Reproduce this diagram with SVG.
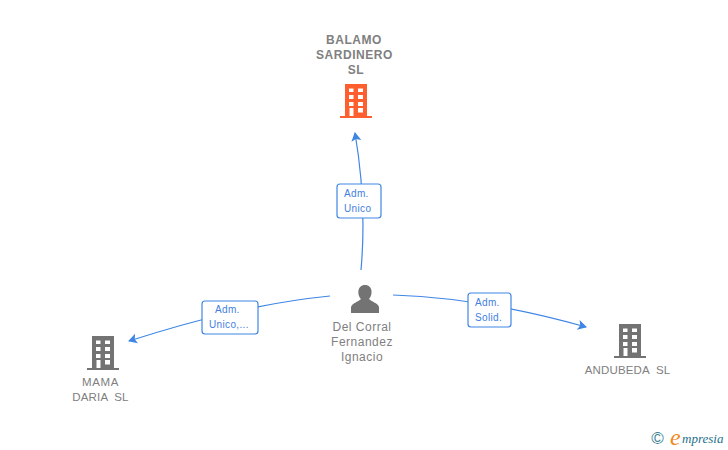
<svg xmlns="http://www.w3.org/2000/svg" width="728" height="450" viewBox="0 0 728 450">
<defs>
<style>
.n{font-family:"Liberation Sans",Arial,sans-serif;font-size:12px;fill:#808080;text-anchor:middle;letter-spacing:.5px;white-space:pre}
.m{font-size:11.500px;letter-spacing:.6px}
.t{font-size:11.500px;letter-spacing:.15px}
.b{font-weight:bold;letter-spacing:.55px}
.e{font-family:"Liberation Sans",Arial,sans-serif;font-size:10px;fill:#3f80df;letter-spacing:.35px}
.c{fill:none;stroke:#3f86e4;stroke-width:1.2}
.l{fill:#fff;stroke:#3f86e4;stroke-width:1.2}
</style>
<marker id="a" markerWidth="11" markerHeight="11" refX="8" refY="5" orient="auto" markerUnits="userSpaceOnUse"><path d="M0 0L9 5L0 10L2 5Z" fill="#3f86e4"/></marker>
<g id="bld">
<path fill-rule="evenodd" d="M5 0H27V32H32V34H0V32H5ZM9 4.500V8H13.500V4.500ZM18 4.500V8H23V4.500ZM9 11V15H13.500V11ZM18 11V15H23V11ZM9 18V22H13.500V18ZM18 18V22H23V18ZM9.500 24V32H13.500V24ZM18 24V28.500H23V24Z"/>
</g>
</defs>
<rect width="728" height="450" fill="#fff"/>
<g id="connectors">
<path class="c" marker-end="url(#a)" d="M361 270C365 225 363 180 355 133"/>
<path class="c" marker-end="url(#a)" d="M330 296C260 303 195 320 129 341"/>
<path class="c" marker-end="url(#a)" d="M393 295C460 297 525 310 586 327"/>
</g>
<g id="edge-top"><rect class="l" x="337" y="184" width="44" height="34" rx="3"/><text class="e" x="344" y="197">Adm.</text><text class="e" x="344" y="212">Unico</text></g>
<g id="edge-left"><rect class="l" x="202" y="301" width="56" height="33" rx="3"/><text class="e" x="215" y="313">Adm.</text><text class="e" x="209" y="328">Unico,...</text></g>
<g id="edge-right"><rect class="l" x="468" y="293" width="43" height="34" rx="3"/><text class="e" x="475" y="306">Adm.</text><text class="e" x="475" y="321">Solid.</text></g>
<g id="node-balamo"><text class="n b" x="354" y="44">BALAMO</text><text class="n b" x="354.500" y="59">SARDINERO</text><text class="n b" x="356" y="74">SL</text><use href="#bld" x="340" y="84" fill="#ff5f2e"/></g>
<g id="node-person"><path fill="#737373" d="M351 313V307C352 303 358 302 361 299C357 295 357 285 365 285C373 285 373 295 369 299C372 302 378 303 379 307V313Z"/><text class="n" x="362" y="331">Del Corral</text><text class="n" x="362" y="346">Fernandez</text><text class="n" x="362" y="361">Ignacio</text></g>
<g id="node-mama"><use href="#bld" x="87" y="336" fill="#737373"/><text class="n m" x="100.500" y="386">MAMA</text><text class="n t" x="100.500" y="401">DARIA  SL</text></g>
<g id="node-andubeda"><use href="#bld" x="614" y="324" fill="#737373"/><text class="n t" x="627.500" y="374">ANDUBEDA  SL</text></g>
<g id="logo"><text x="657.500" y="444" font-family="Liberation Sans,sans-serif" font-size="17" fill="#3d7f96" text-anchor="middle">©</text><text x="670" y="445" font-family="Liberation Serif,serif" font-style="italic" font-size="24" fill="#f08a1d">e</text><text x="682" y="443" font-family="Liberation Serif,serif" font-style="italic" font-size="13" fill="#1f6f8b">mpresia</text></g>
</svg>
